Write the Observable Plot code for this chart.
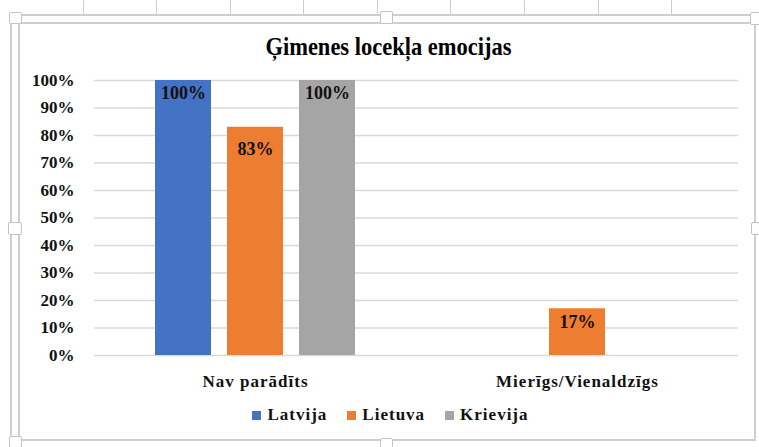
<!DOCTYPE html>
<html>
<head>
<meta charset="utf-8">
<script src="https://cdn.jsdelivr.net/npm/d3@7"></script>
<script src="https://cdn.jsdelivr.net/npm/@observablehq/plot@0.6"></script>
<style>
  html, body { margin: 0; padding: 0; background: #fff; }
  #wrap { position: relative; width: 759px; height: 447px; overflow: hidden; font-family: "Liberation Serif", "Times New Roman", serif; }
  .ln { position: absolute; background: #cfcfcf; }
  .hd { position: absolute; background: #fff; border: 1px solid #c4c4c4; border-radius: 2px; box-sizing: border-box; }
  #title { position: absolute; left: 20px; width: 737px; top: 32px; line-height: 30px; text-align: center; font-size: 22.5px; font-weight: bold; color: #000; transform: scaleY(1.08); }
  #chart { position: absolute; left: 0; top: 60px; }
  #legend { position: absolute; left: 22px; width: 737px; top: 403px; height: 24px; display: flex; justify-content: center; align-items: center; font-size: 17px; font-weight: bold; letter-spacing: 1px; color: #111; }
  #legend .item { display: flex; align-items: center; margin: 0 10px; }
  #legend .sw { width: 9px; height: 9px; margin-right: 6px; }
  #chart svg [aria-label^="fx-axis"] text { letter-spacing: 1px; }
</style>
</head>
<body>
<div id="wrap">
  <div id="frame"></div>
  <div id="title">Ģimenes locekļa emocijas</div>
  <div id="chart"></div>
  <div id="legend"></div>
</div>
<script>
const categories = ["Nav parādīts", "Mierīgs/Vienaldzīgs"];
const series = ["Latvija", "Lietuva", "Krievija"];
const latvija = [100, 0];
const lietuva = [83, 17];
const krievija = [100, 0];
const colors = ["#4472C4", "#ED7D31", "#A5A5A5"];
const yTicks = [0, 10, 20, 30, 40, 50, 60, 70, 80, 90, 100];

const valuesBySeries = [latvija, lietuva, krievija];
const rows = [];
categories.forEach((c, ci) => {
  series.forEach((s, si) => rows.push({category: c, series: s, value: valuesBySeries[si][ci]}));
});

// frame (spreadsheet chart border + handles)
const frame = document.getElementById("frame");
function ln(x, y, w, h) { const d = document.createElement("div"); d.className = "ln"; Object.assign(d.style, {left: x+"px", top: y+"px", width: w+"px", height: h+"px"}); frame.appendChild(d); }
function hd(x, y, w, h) { const d = document.createElement("div"); d.className = "hd"; Object.assign(d.style, {left: x+"px", top: y+"px", width: w+"px", height: h+"px"}); frame.appendChild(d); }
[83, 156, 230, 303, 377, 450, 524, 598, 671].forEach(x => ln(x, 0, 1, 14));
ln(12, 14, 743, 2);
ln(18, 22, 737, 2);
ln(10, 14, 2, 426);
ln(18, 22, 2, 418);
ln(18, 439, 737, 2);
ln(754, 14, 2, 427);
hd(9, 12, 13, 12);
hd(380, 11, 13, 13);
hd(750, 12, 12, 13);
hd(8, 222, 14, 13);
hd(751, 222, 12, 13);
hd(9, 436, 13, 12);
hd(380, 438, 13, 12);

const isMid = d => d.category === categories[0] && d.series === series[1];

const chart = Plot.plot({
  width: 759,
  height: 340,
  marginLeft: 94,
  marginRight: 21,
  marginTop: 20,
  marginBottom: 45,
  style: {fontFamily: "Liberation Serif, Times New Roman, serif", fontSize: "17px", fontWeight: "bold", color: "#111", background: "transparent"},
  facet: {data: rows, x: "category"},
  fx: {domain: categories, paddingInner: 0, paddingOuter: 0, label: null, axis: "bottom", tickSize: 0, tickPadding: 19},
  x: {domain: series, paddingInner: 0.222, paddingOuter: 0.847, axis: null},
  y: {domain: [0, 100], ticks: yTicks, tickFormat: d => d + "%", tickSize: 0, tickPadding: 20, label: null},
  color: {domain: series, range: colors},
  marks: [
    Plot.ruleY(yTicks, {stroke: "#d9d9d9", strokeWidth: 1.5}),
    Plot.barY(rows, {x: "series", y: "value", fill: "series"}),
    Plot.text(rows, {filter: d => d.value > 0 && !isMid(d), x: "series", y: "value", text: d => d.value + "%", dy: 13, fill: "#111", fontSize: 18, fontWeight: "bold"}),
    Plot.text(rows, {filter: d => d.value > 0 && isMid(d), x: "series", y: "value", text: d => d.value + "%", dy: 22, fill: "#111", fontSize: 18, fontWeight: "bold"})
  ]
});
document.getElementById("chart").appendChild(chart);

const legend = document.getElementById("legend");
series.forEach((s, i) => {
  const it = document.createElement("div"); it.className = "item";
  const sw = document.createElement("div"); sw.className = "sw"; sw.style.background = colors[i];
  const t = document.createElement("span"); t.textContent = s;
  it.appendChild(sw); it.appendChild(t); legend.appendChild(it);
});
</script>
</body>
</html>
